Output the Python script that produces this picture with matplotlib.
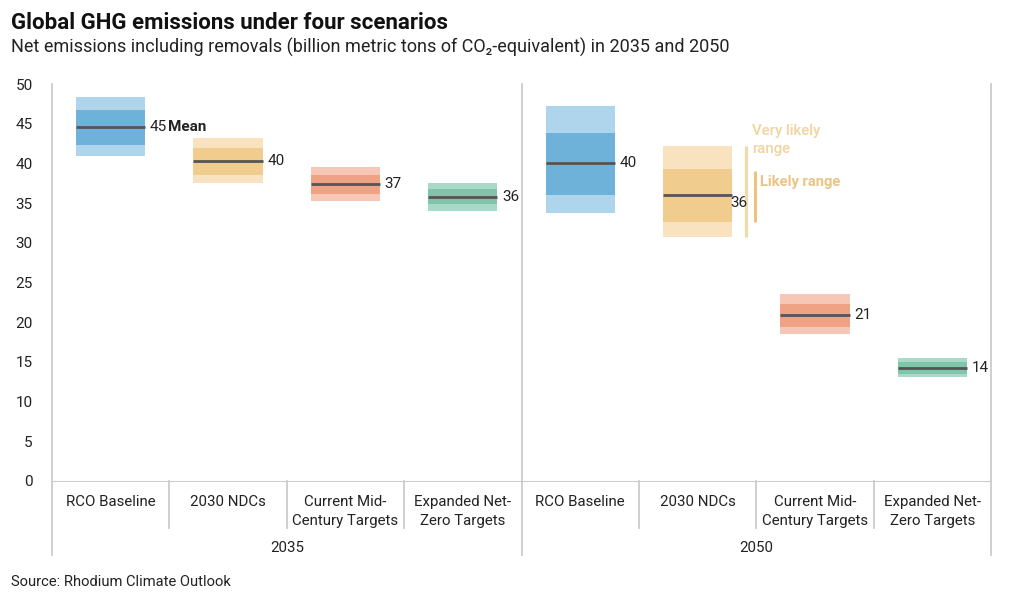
import matplotlib.pyplot as plt
from matplotlib.transforms import blended_transform_factory

plt.rcParams['font.family'] = ['Roboto', 'DejaVu Sans']

years = ['2035', '2050']
scenarios = ['RCO Baseline', '2030 NDCs', 'Current Mid-\nCentury Targets', 'Expanded Net-\nZero Targets']

# values per bar, 2035 first then 2050
mean = [44.6, 40.3, 37.4, 35.8, 40.0, 36.0, 20.9, 14.2]
likely_lo = [42.3, 38.5, 36.1, 34.9, 36.0, 32.6, 19.4, 13.5]
likely_hi = [46.7, 41.9, 38.5, 36.8, 43.8, 39.3, 22.3, 15.0]
vlikely_lo = [40.9, 37.5, 35.3, 34.0, 33.8, 30.7, 18.5, 13.1]
vlikely_hi = [48.4, 43.2, 39.5, 37.5, 47.2, 42.2, 23.6, 15.5]

light = ['#afd5ec', '#f8e2bf', '#f6c7b6', '#a9d9c7']
dark = ['#6fb2d9', '#f0cd8e', '#f0a285', '#80c4ac']

fig = plt.figure(figsize=(10.2, 6.01), dpi=100)
ax = fig.add_axes([0.051, 0.1997, 0.9206, 0.6605])

w = 0.59
for i in range(8):
    c = i % 4
    ax.bar(i, vlikely_hi[i] - vlikely_lo[i], bottom=vlikely_lo[i], width=w, color=light[c], zorder=1)
    ax.bar(i, likely_hi[i] - likely_lo[i], bottom=likely_lo[i], width=w, color=dark[c], zorder=2)
    ax.plot([i - w / 2, i + w / 2], [mean[i], mean[i]], color='#555555', lw=2, zorder=3, solid_capstyle='butt')
    if i == 5:
        ax.text(i + w / 2 - 0.02, mean[i] - 1.0, str(round(mean[i])), ha='left', va='center', fontsize=11, color='#222222')
    else:
        ax.text(i + w / 2 + 0.04, mean[i], str(round(mean[i])), ha='left', va='center', fontsize=11, color='#222222')

ax.text(w / 2 + 0.19, mean[0], 'Mean', ha='left', va='center', fontsize=11, fontweight='bold', color='#222222')

# range annotation next to 2050 NDCs
ax.plot([5.41, 5.41], [vlikely_lo[5], vlikely_hi[5]], color='#f3d9a8', lw=2.2, solid_capstyle='butt')
ax.plot([5.485, 5.485], [likely_lo[5], likely_hi[5] - 0.2], color='#edc47f', lw=2.2, solid_capstyle='butt')
ax.text(5.465, 45.0, 'Very likely\nrange', ha='left', va='top', fontsize=10.8, fontweight='medium', color='#f0d39e', linespacing=1.35)
ax.text(5.53, 37.7, 'Likely range', ha='left', va='center', fontsize=10.6, fontweight='bold', color='#ebc383')

ax.set_xlim(-0.5, 7.5)
ax.set_ylim(0, 50)
ax.set_yticks(range(0, 51, 5))
ax.tick_params(axis='y', length=0, pad=14, labelsize=11, labelcolor='#222222')
ax.set_xticks([])
for s in ['top', 'right', 'left']:
    ax.spines[s].set_visible(False)
ax.spines['bottom'].set_color('#cccccc')

# separators and category labels
tr = blended_transform_factory(ax.transData, ax.transAxes)
for xb in [-0.5, 3.5, 7.5]:
    ax.plot([xb, xb], [-0.186, 1.0], color='#cccccc', lw=1.3, transform=tr, clip_on=False)
for xb in [0.5, 1.5, 2.5, 4.5, 5.5, 6.5]:
    ax.plot([xb, xb], [-0.118, 0.0], color='#cccccc', lw=1.3, transform=tr, clip_on=False)
for i in range(8):
    ax.text(i, -0.036, scenarios[i % 4], transform=tr, ha='center', va='top', fontsize=10.8, color='#222222', linespacing=1.4)
for g, y in enumerate(years):
    ax.text(1.5 + 4 * g, -0.168, y, transform=tr, ha='center', va='center', fontsize=10.8, color='#222222')

fig.text(0.011, 0.962, 'Global GHG emissions under four scenarios', fontsize=16, fontweight='bold', va='center', color='#111111')
fig.text(0.011, 0.921, 'Net emissions including removals (billion metric tons of CO₂-equivalent) in 2035 and 2050', fontsize=13, va='center', color='#222222')
fig.text(0.011, 0.032, 'Source: Rhodium Climate Outlook', fontsize=10.6, va='center', color='#222222')

fig.savefig('out.png', dpi=100)
